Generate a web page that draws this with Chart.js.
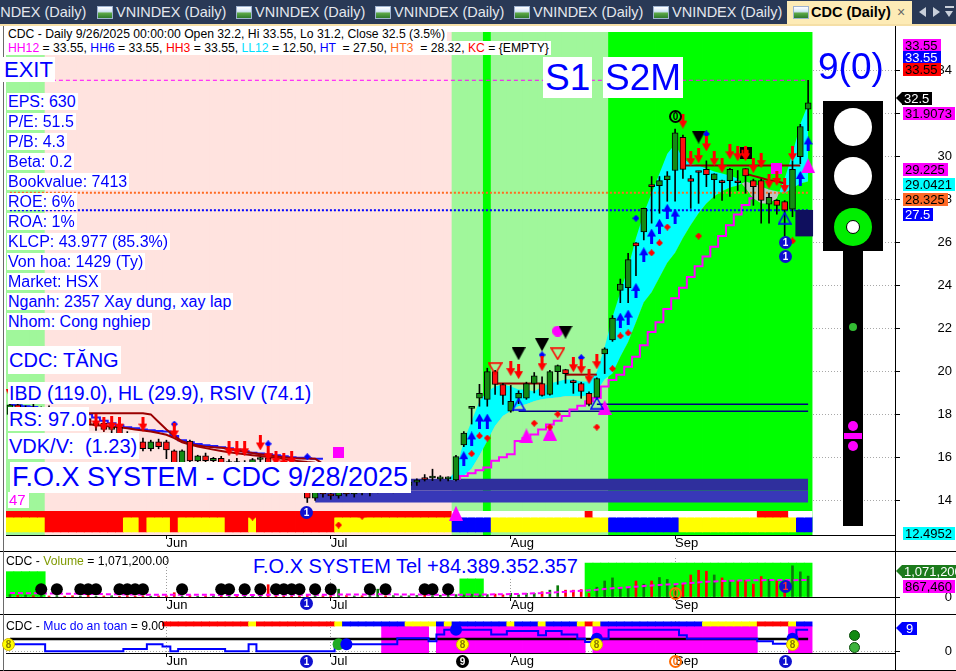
<!DOCTYPE html>
<html>
<head>
<meta charset="utf-8">
<title>CDC (Daily)</title>
<script src="https://cdn.jsdelivr.net/npm/chart.js@4.4.1/dist/chart.umd.min.js"></script>
<style>
body{margin:0;background:#fff;font-family:"Liberation Sans",Arial,sans-serif}
#wrap{position:relative;width:956px;height:671px;overflow:hidden;background:#fff}
#tabs{position:absolute;left:0;top:0;width:956px;height:24px;background:#293956;overflow:hidden}
.tab{position:absolute;top:5px;color:#e4e8ee;font-size:14.5px;line-height:14.5px;white-space:nowrap}
.ico{position:absolute;top:6px;width:16px;height:13px;box-sizing:border-box;border:1px solid #9fb3cf;background:linear-gradient(#ffffff 0,#d6e6f8 40%,#5aa646 58%,#2e7a2c 100%)}
#active{position:absolute;left:787px;top:1px;width:125px;height:25px;background:#fdebb6}
canvas{position:absolute;left:0}
.t{position:absolute;white-space:pre;color:#0000ff;background:#fff}
.lbl{position:absolute;font-size:13px;line-height:13px;height:13px;padding:0 3px 0 2px;white-space:nowrap}
.arr{position:absolute;left:-6px;top:0;width:0;height:0;border-top:6.5px solid transparent;border-bottom:6.5px solid transparent}
.ln{position:absolute;background:#000}
.dot{position:absolute;border-radius:50%;box-sizing:border-box}
.num{position:absolute;width:13px;height:13px;border-radius:50%;box-sizing:border-box;font:bold 10px/13px "Liberation Sans",Arial,sans-serif;text-align:center}
</style>
</head>
<body>
<div id="wrap">
  <div id="tabs">
    <span class="tab" style="left:-24px">VNINDEX (Daily)</span>
    <span class="ico" style="left:97px"></span><span class="tab" style="left:116px">VNINDEX (Daily)</span>
    <span class="ico" style="left:236px"></span><span class="tab" style="left:255px">VNINDEX (Daily)</span>
    <span class="ico" style="left:375px"></span><span class="tab" style="left:394px">VNINDEX (Daily)</span>
    <span class="ico" style="left:514px"></span><span class="tab" style="left:533px">VNINDEX (Daily)</span>
    <span class="ico" style="left:653px"></span><span class="tab" style="left:672px">VNINDEX (Daily)</span>
    <div id="active">
      <span class="ico" style="left:6px;top:5px"></span>
      <span class="tab" style="left:24px;top:4px;color:#000;font-weight:bold">CDC (Daily)</span>
      <span class="tab" style="left:110px;top:4px;color:#666;font-size:14px">×</span>
    </div>
    <div style="position:absolute;left:919px;top:7px;width:0;height:0;border-top:5px solid transparent;border-bottom:5px solid transparent;border-right:7px solid #c9d0da"></div>
    <div style="position:absolute;left:933px;top:7px;width:0;height:0;border-top:5px solid transparent;border-bottom:5px solid transparent;border-left:7px solid #c9d0da"></div>
    <div style="position:absolute;left:945px;top:6px;width:9px;height:2px;background:#c9d0da"></div>
    <div style="position:absolute;left:945px;top:11px;width:0;height:0;border-left:4.5px solid transparent;border-right:4.5px solid transparent;border-top:6px solid #c9d0da"></div>
  </div>
  <div style="position:absolute;left:0;top:24px;width:956px;height:2px;background:#f5dfa6"></div>

  <canvas id="main" width="956" height="525" style="top:26px"></canvas>
  <canvas id="vol" width="956" height="62" style="top:552px"></canvas>
  <canvas id="safe" width="956" height="55" style="top:615px"></canvas>

  <div class="ln" style="left:0;top:551px;width:956px;height:1px"></div>
  <div class="ln" style="left:0;top:614px;width:956px;height:1px"></div>
  <div class="ln" style="left:0;top:670px;width:956px;height:1px"></div>
  <div class="ln" style="left:895px;top:26px;width:1px;height:645px"></div>
  <div class="ln" style="left:3px;top:26px;width:1px;height:645px;background:#6a6a6a"></div>

  <!-- header -->
  <div class="t" style="left:6px;top:27px;font-size:12.2px;line-height:14px;color:#000;padding:0 2px">CDC - Daily 9/26/2025 00:00:00 Open 32.2, Hi 33.55, Lo 31.2, Close 32.5 (3.5%)</div>
  <div class="t" style="left:6px;top:41px;font-size:12.2px;line-height:14px;color:#000;padding:0 2px"><span style="color:#ff00ff">HH12</span> = 33.55, <span style="color:#0000ff">HH6</span> = 33.55, <span style="color:#ff0000">HH3</span> = 33.55, <span style="color:#00e0ff">LL12</span> = 12.50, <span style="color:#0000ff">HT</span>  = 27.50, <span style="color:#ff6a20">HT3</span>  = 28.32, <span style="color:#ff0000">KC</span> = {EMPTY}</div>

  <div class="t" style="left:3px;top:57px;font-size:22px;line-height:25px;height:25px;padding:0 2px 0 1px">EXIT</div>
  <div class="t" style="left:543px;top:57px;font-size:37px;line-height:41px;height:41px;padding:0 2px">S1</div>
  <div class="t" style="left:603px;top:57px;font-size:37px;line-height:41px;height:41px;padding:0 2px">S2M</div>
  <div class="t" style="left:818px;top:48px;font-size:37px;line-height:37px;background:transparent">9(0)</div>

  <div class="t" style="left:7px;top:93px;font-size:16px;line-height:17px;padding:0 2px 0 1px">EPS: 630</div>
  <div class="t" style="left:7px;top:113px;font-size:16px;line-height:17px;padding:0 2px 0 1px">P/E: 51.5</div>
  <div class="t" style="left:7px;top:133px;font-size:16px;line-height:17px;padding:0 2px 0 1px">P/B: 4.3</div>
  <div class="t" style="left:7px;top:153px;font-size:16px;line-height:17px;padding:0 2px 0 1px">Beta: 0.2</div>
  <div class="t" style="left:7px;top:173px;font-size:16px;line-height:17px;padding:0 2px 0 1px">Bookvalue: 7413</div>
  <div class="t" style="left:7px;top:193px;font-size:16px;line-height:17px;padding:0 2px 0 1px">ROE: 6%</div>
  <div class="t" style="left:7px;top:213px;font-size:16px;line-height:17px;padding:0 2px 0 1px">ROA: 1%</div>
  <div class="t" style="left:7px;top:233px;font-size:16px;line-height:17px;padding:0 2px 0 1px">KLCP: 43.977 (85.3%)</div>
  <div class="t" style="left:7px;top:253px;font-size:16px;line-height:17px;padding:0 2px 0 1px">Von hoa: 1429 (Ty)</div>
  <div class="t" style="left:7px;top:273px;font-size:16px;line-height:17px;padding:0 2px 0 1px">Market: HSX</div>
  <div class="t" style="left:7px;top:293px;font-size:16px;line-height:17px;padding:0 2px 0 1px">Nganh: 2357 Xay dung, xay lap</div>
  <div class="t" style="left:7px;top:313px;font-size:16px;line-height:17px;padding:0 2px 0 1px">Nhom: Cong nghiep</div>

  <div class="t" style="left:8px;top:346px;font-size:20px;line-height:28px;padding:0 2px 0 1px">CDC: TĂNG</div>
  <div class="t" style="left:8px;top:382px;font-size:19.5px;line-height:22px;padding:0 2px 0 1px">IBD (119.0), HL (29.9), RSIV (74.1)</div>
  <div class="t" style="left:8px;top:407px;font-size:20px;line-height:24px;padding:0 2px 0 1px">RS: 97.0</div>
  <div class="t" style="left:8px;top:433px;font-size:20px;line-height:26px;padding:0 2px 0 1px">VDK/V:  (1.23)</div>
  <div class="t" style="left:10px;top:462px;font-size:27px;line-height:31px;padding:0 3px 0 2px">F.O.X SYSTEM - CDC 9/28/2025</div>
  <div class="t" style="left:8px;top:492px;font-size:15px;line-height:16px;color:#ff00ff;padding:0 3px 0 1px">47</div>

  <div class="t" style="left:6px;top:555px;font-size:12.2px;line-height:13px;color:#000;background:transparent">CDC - <span style="color:#7f9a00">Volume</span> = 1,071,200.00</div>
  <div class="t" style="left:252px;top:555px;font-size:20px;line-height:22px;padding:0 2px 0 1px">F.O.X SYSTEM Tel +84.389.352.357</div>
  <div class="t" style="left:6px;top:620px;font-size:12.2px;line-height:13px;color:#000;background:transparent">CDC - <span style="color:#0000ff">Muc do an toan</span> = 9.00</div>

  <!-- axis value labels -->
  <div class="lbl" style="left:903px;top:39px;background:#ff00ff;color:#000">33.55</div>
  <div class="lbl" style="left:903px;top:51px;background:#0000ff;color:#fff">33.55</div>
  <div class="lbl" style="left:903px;top:63px;background:#ff0000;color:#000">33.55</div>
  <div class="lbl" style="left:902px;top:92px;background:#000;color:#fff"><span class="arr" style="border-right:6px solid #000"></span>32.5</div>
  <div class="lbl" style="left:903px;top:107px;background:#ff00ff;color:#000">31.9073</div>
  <div class="lbl" style="left:903px;top:163px;background:#ff00ff;color:#000">29.225</div>
  <div class="lbl" style="left:903px;top:178px;background:#00ffff;color:#000">29.0421</div>
  <div class="lbl" style="left:903px;top:193px;background:#ff6a26;color:#000">28.325</div>
  <div class="lbl" style="left:903px;top:208px;background:#0000ff;color:#fff">27.5</div>
  <div class="lbl" style="left:903px;top:527px;background:#00ffff;color:#000">12.4952</div>
  <div class="lbl" style="left:902px;top:565px;background:#1b7a1b;color:#fff"><span class="arr" style="border-right:6px solid #1b7a1b"></span>1,071,200</div>
  <div class="lbl" style="left:903px;top:580px;background:#ff00ff;color:#000">867,460</div>
  <div class="lbl" style="left:902px;top:622px;background:#0000ff;color:#fff;padding:0 4px"><span class="arr" style="border-right:6px solid #0000ff"></span>9</div>

  <!-- signal light -->
  <div style="position:absolute;left:823px;top:101px;width:60px;height:150px;background:#000"></div>
  <div class="dot" style="left:834px;top:108px;width:38px;height:38px;background:#fff"></div>
  <div class="dot" style="left:834px;top:157px;width:38px;height:38px;background:#fff"></div>
  <div class="dot" style="left:834px;top:208px;width:38px;height:38px;background:#00ee00"></div>
  <div class="dot" style="left:846px;top:220px;width:14px;height:14px;background:#fff;border:1px solid #000"></div>
  <div style="position:absolute;left:843px;top:251px;width:20px;height:275px;background:#000"></div>
  <div class="dot" style="left:849px;top:323px;width:8px;height:8px;background:#33bb33"></div>
  <div class="dot" style="left:848px;top:421px;width:10px;height:10px;background:#ff00ff"></div>
  <div style="position:absolute;left:844px;top:433px;width:18px;height:6px;background:#ff00ff"></div>
  <div class="dot" style="left:848px;top:441px;width:10px;height:10px;background:#ff00ff"></div>
  <div class="dot" style="left:849px;top:630px;width:11px;height:11px;background:#138a13;border:1px solid #0a4a0a"></div>
  <div class="dot" style="left:849px;top:642px;width:11px;height:11px;background:#3cb33c;border:1px solid #0a4a0a"></div>

  <!-- circled signal digits -->
  <div class="num" style="left:669px;top:110px;border:2px solid #000;color:#000;line-height:9px">0</div>
  <div class="num" style="left:779px;top:236px;background:#1010d0;color:#fff">1</div>
  <div class="num" style="left:779px;top:250px;background:#1010d0;color:#fff">1</div>
  <div class="num" style="left:300px;top:506px;background:#1010d0;color:#fff">1</div>
  <div class="num" style="left:300px;top:597px;background:#1010d0;color:#fff">1</div>
  <div class="num" style="left:669px;top:587px;border:2px solid #ff6a00;color:#ff6a00;line-height:9px">0</div>
  <div class="num" style="left:779px;top:580px;background:#1010d0;color:#ff3030">1</div>
  <div class="num" style="left:300px;top:655px;background:#1010d0;color:#fff">1</div>
  <div class="num" style="left:456px;top:655px;background:#000;color:#fff">9</div>
  <div class="num" style="left:669px;top:655px;border:2px solid #ff6a00;color:#ff6a00;line-height:9px">0</div>
  <div class="num" style="left:779px;top:655px;background:#1010d0;color:#fff">1</div>
  <div class="num" style="left:2px;top:638px;background:#ffff00;border:1px solid #d0b000;color:#8a7a00;line-height:11px">8</div>
  <div class="num" style="left:456px;top:638px;background:#ffff00;border:1px solid #d0b000;color:#8a7a00;line-height:11px">8</div>
  <div class="num" style="left:590px;top:638px;background:#ffff00;border:1px solid #d0b000;color:#8a7a00;line-height:11px">8</div>
  <div class="num" style="left:786px;top:638px;background:#ffff00;border:1px solid #d0b000;color:#8a7a00;line-height:11px">8</div>
</div>

<script>
// ---- x axis (trading days, 5 May .. 26 Sep 2025) ----
const monthIdx = [20, 41, 64, 85];
const monthName = ['Jun', 'Jul', 'Aug', 'Sep'];
const priceTicks = [14, 16, 18, 20, 22, 24, 26, 28, 30, 32, 34];

// ---- daily candles ----
const open = [18.0,18.45,18.2,18.3,18.05,18.25,17.95,18.1,17.85,17.7,17.8,17.5,17.6,17.3,17.4,17.05,16.85,16.72,16.4,16.72,
  16.72,16.3,15.75,16.76,15.84,16.07,15.85,15.95,15.7,15.8,15.65,15.75,15.9,15.98,15.7,15.55,15.4,15.2,14.7,14.1,
  14.4,14.3,14.2,14.4,14.3,14.45,14.35,14.5,14.6,14.5,14.65,14.7,14.85,15.05,15.04,15.0,15.0,
  14.95,16.58,18.28,18.75,18.7,19.99,19.39,18.15,18.75,18.75,19.44,19.44,18.93,19.99,20.08,19.57,19.44,18.98,18.79,20.82,
  21.47,23.77,23.9,25.98,26.49,28.7,28.65,28.93,29.35,30.9,28.98,29.3,29.4,28.93,28.88,28.88,28.82,29.44,28.88,28.88,
  27.78,27.96,27.9,27.55,30.0,32.2];
const high = [18.55,18.7,18.4,18.5,18.35,18.4,18.2,18.25,18.0,17.9,17.95,17.7,17.7,17.5,17.45,17.2,17.0,16.9,16.8,16.85,
  16.8,16.35,16.35,16.8,16.1,16.2,16.0,16.05,15.9,15.95,15.85,15.95,16.0,16.05,15.85,15.7,15.5,15.3,14.8,14.5,
  14.6,14.45,14.5,14.55,14.5,14.6,14.55,14.7,14.75,14.7,14.8,14.9,15.0,15.2,15.45,15.15,15.1,
  16.1,17.2,18.32,19.4,20.15,20.05,19.45,19.35,19.1,19.5,19.95,19.75,20.05,20.3,20.1,19.6,19.5,19.05,19.7,21.1,
  22.6,24.3,25.5,26.0,27.6,29.07,29.07,29.3,31.28,31.0,29.12,29.32,29.8,29.2,28.9,29.45,29.35,29.44,28.95,28.95,
  28.3,28.0,27.95,29.8,31.5,33.55];
const low = [17.9,18.1,17.95,17.9,17.8,17.85,17.7,17.75,17.55,17.4,17.4,17.25,17.2,17.0,16.95,16.75,16.6,16.3,16.3,16.4,
  15.94,15.7,15.7,15.8,15.7,15.75,15.6,15.65,15.5,15.55,15.5,15.6,15.7,15.6,15.45,15.3,15.1,14.6,13.9,14.0,
  14.15,14.05,14.1,14.2,14.15,14.25,14.2,14.35,14.4,14.35,14.5,14.55,14.7,14.9,14.92,14.9,14.9,
  14.9,16.5,17.55,18.38,18.38,18.93,18.47,18.1,18.5,18.7,19.0,18.85,18.9,19.4,19.45,18.98,18.75,18.4,18.7,19.9,
  21.4,23.2,23.2,24.46,26.12,26.9,27.36,27.92,27.92,28.98,27.59,27.82,28.6,28.06,27.96,28.15,28.42,28.29,27.73,26.9,
  26.9,27.32,26.3,27.2,29.67,31.2];
const close = [18.45,18.2,18.3,18.05,18.25,17.95,18.1,17.85,17.7,17.8,17.5,17.6,17.3,17.4,17.05,16.85,16.7,16.4,16.72,16.5,
  16.35,15.75,16.3,15.84,16.07,15.85,15.95,15.7,15.8,15.65,15.75,15.9,15.98,15.7,15.55,15.4,15.2,14.7,14.1,14.4,
  14.3,14.2,14.4,14.3,14.45,14.35,14.5,14.6,14.5,14.65,14.7,14.85,14.9,14.97,15.06,15.02,15.05,
  16.04,17.13,18.3,18.98,19.99,19.39,18.88,18.61,18.98,19.44,19.8,18.88,19.99,20.27,19.9,19.48,19.07,18.47,19.67,21.05,
  22.48,24.06,25.2,25.84,27.59,28.6,28.88,29.1,31.1,29.4,28.84,29.26,29.16,29.2,28.79,29.4,28.78,29.1,28.6,27.96,
  28.1,27.73,27.5,29.4,31.4,32.5];

// ---- price levels ----
const levelHH12 = 33.55, levelHT3 = 28.32, levelHT = 27.50;
const resFrom = [62, 71, 86], resTo = [68, 75, 101], resLevel = [19.44, 19.85, 29.58];
const supFrom = [65, 75], supTo = [102, 102], supLevel = [18.15, 18.47];
const resSlope = [29.2, 29.1, 29.0, 28.9, 28.85, 28.75];           // from day 94
const zoneTop = 15.0, zoneMid = 14.46, zoneBot = 13.9, zoneFrom = 39;

// ---- overlays ----
const trailStop = [15.0,15.13,15.26,15.4,15.53,15.84,16.0,16.15,16.76,16.9,17.07,17.3,17.53,17.7,17.92,18.23,18.4,18.61,18.76,19.3,
  19.6,19.84,20.22,20.68,21.22,21.83,22.29,22.9,23.4,23.9,24.4,24.9,25.35,25.8,26.3,26.8,27.3,27.75,28.06]; // from day 57
const cloudUp = [14.97,15.38,16.76,17.69,18.61,19.07,19.3,19.39,19.3,19.16,19.16,19.07,19.3,19.44,19.53,19.62,19.62,19.53,19.53,19.99,
  21.14,22.53,23.68,24.83,26.21,27.36,28.29,29.21,30.13,30.59,29.9,29.67,29.58,29.44,29.3,29.21,29.12,28.98,28.52,28.06,
  27.82,27.82,28.06,28.98,30.13,31.51,32.43]; // from day 56
const cloudLow = [14.97,14.92,15.15,15.47,16.07,16.76,17.46,17.92,18.15,18.38,18.47,18.61,18.7,18.75,18.79,18.84,18.84,18.84,18.88,19.07,
  19.62,19.9,20.68,21.37,22.29,23.22,23.68,24.37,25.06,25.52,26.21,26.81,27.36,27.82,28.15,28.38,28.56,28.65,28.84,28.75,
  28.61,28.47,28.38,28.29,28.52,28.75,28.84];
const trendHi = [18.05,18.05,18.05,18.05,18.05,18.05,18.05,18.05,18.05,18.05,18.0,17.65,17.3,17.0,16.75,16.62,16.55,16.5,16.47,16.45,
  16.4,16.33,16.26,16.2,16.15,16.1,16.05,16.0,15.97,15.95,15.95,15.94,15.7]; // from day 8
const trendLo = [17.62,17.58,17.55,17.5,17.47,17.43,17.4,17.36,17.3,17.25,17.2,17.13,17.05,16.9,16.7,16.6,16.5,16.43,16.36,16.3,
  16.24,16.19,16.14,16.1,16.06,16.02,15.98,15.92,15.86,15.82,15.78,15.75]; // from day 8
const avgLine = [18.45,18.42,18.38,18.35,18.3,18.27,18.22,18.17,18.12,18.06,18.01,17.85,17.7,17.59,17.5,17.4,17.35,17.3,17.26,17.23,
  17.2,17.0,16.8,16.7,16.62,16.56,16.53,16.47,16.42,16.35,16.28,16.22,16.18,16.15,16.1,16.05,16.0,15.98,15.96,15.94,15.93];

// ---- signal markers (day, price) ----
const sellArrowDay = [0,11,12,13,14,17,21,28,29,30,32,33,34,35,36,64,65,68,72,73,74,75,86,87,88,89,90,91,92,93,94,95,96,97,98,99,100];
const sellArrowVal = [19.16,17.69,17.55,17.59,17.55,17.55,17.23,16.4,16.4,16.4,16.67,16.17,15.94,15.84,15.94,20.13,19.99,20.36,20.31,20.22,19.76,20.45,
  31.65,29.9,30.04,30.59,29.9,29.58,30.22,30.13,30.13,29.58,29.81,28.84,28.98,28.65,30.13];
const buyArrowDay = [58,59,60,61,78,79,80,81,82,83,84,85,101,102];
const buyArrowVal = [15.94,16.86,17.69,17.69,22.39,22.53,23.77,25.43,26.3,26.76,27.46,27.23,28.98,30.59];
const redDotDay = [31,42,45,59,60,61,67,69,70,75,77,78,79,82,83,84,88,100];
const redDotVal = [13.22,12.85,13.26,16.17,17.0,16.9,17.59,17.41,18.01,17.41,20.13,21.65,21.79,25.52,25.98,26.72,26.3,26.07];
const blueDotDay = [21,33,38,68,73,80,89];
const blueDotVal = [17.55,16.63,16.03,20.77,20.64,27.13,31.05];
const topDay = [65,68,71,88], topVal = [20.82,21.24,21.83,30.91];
const warnDay = [62,70], warnVal = [20.13,20.82];
const baseDay = [65,75,99], baseVal = [18.47,18.52,27.13];
const pushDay = [57,66,69,76,102], pushVal = [13.4,17.0,17.13,18.33,29.58];
const pinkDotDay = [70], pinkDotVal = [21.88];
const pinkBoxDay = [42,98], pinkBoxVal = [16.21,29.44];
const blackBoxDay = [94], blackBoxVal = [30.18];
const lastBoxDay = [101.5], lastBoxVal = [[26.3, 27.5]];

// ---- state bands (runs of [state, days]) ----
const phaseRuns = [['L',5],['P',52],['L',4],['G',1],['L',15],['G',26]];
const trendRuns = [['R',57],['W',17],['R',1],['W',21],['R',4],['W',3]];
const momentumRuns = [['Y',5],['R',10],['Y',2],['R',1],['Y',3],['R',1],['Y',6],['R',3],['Y',1],['R',10],['Y',15],['B',5],['Y',15],['B',9],['Y',15],['B',2]];

// ---- volume (million shares) ----
const volume = [0.12,0.08,0.1,0.06,0.09,0.05,0.07,0.04,0.06,0.05,0.08,0.04,0.05,0.06,0.04,0.07,0.05,0.06,0.04,0.05,
  0.06,0.22,0.05,0.07,0.04,0.05,0.06,0.04,0.05,0.07,0.05,0.06,0.05,0.63,0.06,0.05,0.04,0.07,0.12,0.09,
  0.06,0.08,0.4,0.07,0.05,0.06,0.08,0.4,0.06,0.07,0.05,0.06,0.08,0.1,0.07,0.09,0.11,
  0.12,0.1,0.14,0.1,0.12,0.15,0.11,0.19,0.11,0.19,0.19,0.27,0.35,0.58,0.35,0.35,0.38,0.19,0.5,0.82,
  0.98,0.5,0.5,0.82,0.66,0.82,1.0,0.9,0.58,0.66,1.13,1.37,1.32,1.13,0.98,0.85,0.82,0.85,0.66,1.05,
  0.9,0.82,0.58,1.6,1.29,1.0712];
const volumeAvg = [0.2,0.2,0.19,0.19,0.19,0.18,0.18,0.17,0.17,0.16,0.16,0.15,0.15,0.14,0.14,0.13,0.13,0.12,0.12,0.12,
  0.11,0.12,0.12,0.12,0.11,0.11,0.11,0.1,0.1,0.1,0.1,0.1,0.1,0.12,0.12,0.12,0.12,0.12,0.12,0.12,
  0.12,0.12,0.13,0.13,0.13,0.13,0.13,0.14,0.14,0.14,0.13,0.13,0.13,0.12,0.12,0.12,0.12,
  0.12,0.12,0.13,0.13,0.13,0.14,0.14,0.15,0.16,0.17,0.19,0.2,0.22,0.25,0.27,0.3,0.32,0.34,0.37,0.41,
  0.45,0.47,0.5,0.53,0.56,0.59,0.62,0.64,0.66,0.69,0.72,0.75,0.78,0.8,0.82,0.83,0.84,0.85,0.86,0.86,
  0.87,0.87,0.87,0.86,0.87,0.867];
const quietDay = [4,6,9,10,11,14,15,16,17,22,27,28,30,32,34,35,36,37,39,41,46,48,53,54,56];
const quietVal = 0.4;
const volZoneRuns = [[1.3,5],[null,53],[0.93,3],[null,13],[1.74,29]];

// ---- safety level ----
const safetyRuns = [[3,5],[0,10],[1,3],[3,2],[2,1],[0,1],[1,6],[0,3],[3,1],[0,10],[3,8],[5.5,4],[4.2,1],[7,1],[9,6],[7,2],[8.5,4],
  [6.7,1],[8.5,2],[7,2],[5.3,1],[3.9,1],[5.3,2],[9,9],[6.7,1],[5.3,9],[4.2,2],[3.2,2],[5.3,1],[9,2]];
const safetyLimit = 5.2;
const safeStateRuns = [['W',20],['R',11],['Y',1],['R',10],['Y',1],['B',8],['Y',4],['B',1],['Y',1],['B',7],['Y',1],['B',3],['Y',1],['B',4],
  ['Y',1],['R',1],['Y',1],['B',13],['Y',7],['R',4],['Y',1],['B',2]];
const safeZoneRuns = [['W',48],['M',6],['W',1],['M',19],['W',1],['M',21],['W',4],['M',3]];
const safeDotDay = [43,57,75,100], safeDotVal = [3,9,5.3,5.3];
const safeGreenDay = [42], safeGreenVal = [3];

// ------------------------------------------------------------------
Chart.defaults.font.family = "'Liberation Sans', Arial, sans-serif";
Chart.defaults.color = '#000';

const days = open.map((_, i) => i);
const expand = runs => runs.flatMap(([s, n]) => Array(n).fill(s));
const phase = expand(phaseRuns), trend = expand(trendRuns), momentum = expand(momentumRuns);
const volZone = expand(volZoneRuns), safety = expand(safetyRuns);
const safeState = expand(safeStateRuns), safeZone = expand(safeZoneRuns);

const phaseColor = { L: '#a0f79b', P: '#ffe3df', G: '#00ff00' };
const stateColor = { R: '#ff0000', Y: '#ffff00', B: '#0000ff', W: '#ffffff', M: '#ff00ff' };
const UP = '#148c14', DOWN = '#ff1010';

function icon(w, h, paint) {
  const c = document.createElement('canvas');
  c.width = w; c.height = h;
  paint(c.getContext('2d'));
  return c;
}
function poly(g, p, fill, stroke, lw) {
  g.beginPath(); g.moveTo(p[0][0], p[0][1]);
  for (let k = 1; k < p.length; k++) g.lineTo(p[k][0], p[k][1]);
  g.closePath();
  if (fill) { g.fillStyle = fill; g.fill(); }
  if (stroke) { g.strokeStyle = stroke; g.lineWidth = lw; g.stroke(); }
}
const icons = {
  sell: icon(9, 15, g => { g.fillStyle = '#ff0000'; g.fillRect(3, 0, 3, 8); poly(g, [[0,7],[9,7],[4.5,15]], '#ff0000'); }),
  buy: icon(9, 15, g => { g.fillStyle = '#0000ff'; g.fillRect(3, 7, 3, 8); poly(g, [[0,8],[9,8],[4.5,0]], '#0000ff'); }),
  redDot: icon(7, 7, g => poly(g, [[3.5,0],[7,3.5],[3.5,7],[0,3.5]], '#ff0000')),
  blueDot: icon(7, 7, g => poly(g, [[3.5,0],[7,3.5],[3.5,7],[0,3.5]], '#0000ff')),
  top: icon(14, 13, g => poly(g, [[0,0],[14,0],[7,13]], '#000')),
  warn: icon(15, 13, g => poly(g, [[1,1],[14,1],[7.5,12]], null, '#ff0000', 1.5)),
  base: icon(14, 13, g => poly(g, [[7,1],[13,12],[1,12]], null, '#0000ff', 1.5)),
  push: icon(14, 15, g => poly(g, [[7,0],[14,15],[0,15]], '#ff00ff')),
  pinkDot: icon(11, 11, g => { g.fillStyle = '#ff00ff'; g.beginPath(); g.arc(5.5, 5.5, 5.5, 0, 7); g.fill(); }),
  pinkBox: icon(11, 11, g => { g.fillStyle = '#ff00ff'; g.fillRect(0, 0, 11, 11); }),
  blackBox: icon(12, 12, g => { g.fillStyle = '#000'; g.fillRect(0, 0, 12, 12); g.fillStyle = '#ff0000'; g.fillRect(2, 3, 2, 6); g.fillRect(7, 3, 2, 6); })
};

const pts = (xs, ys) => xs.map((x, k) => ({ x, y: ys[k] }));
const from = (start, ys) => ys.map((y, k) => ({ x: start + k, y }));

function marks(xs, ys, style) {
  return { type: 'line', showLine: false, data: pts(xs, ys), pointStyle: style, pointRadius: 5, order: 0 };
}
function line(data, color, width, extra) {
  return Object.assign({ type: 'line', data, borderColor: color, borderWidth: width, pointRadius: 0, fill: false, order: 4 }, extra || {});
}
function bars(data, color, thick, order, extra) {
  return Object.assign({ type: 'bar', data, backgroundColor: color, barThickness: thick, grouped: false,
    borderWidth: 0, borderSkipped: false, order }, extra || {});
}

function xScale(h) {
  return {
    type: 'linear', min: -0.5, max: 113.1, offset: false,
    afterBuildTicks: s => { s.ticks = monthIdx.map(v => ({ value: v })); },
    afterFit: s => { s.height = h; },
    ticks: { autoSkip: false, maxRotation: 0, align: 'start', padding: -3, color: '#000', font: { size: 13 },
      callback: v => monthName[monthIdx.indexOf(v)] },
    grid: { color: '#9c9c9c', tickColor: '#000', tickLength: 4, offset: false },
    border: { color: '#000', dash: [1, 2] }
  };
}
function yScale(min, max, ticks) {
  return {
    type: 'linear', position: 'right', min, max,
    afterBuildTicks: s => { s.ticks = ticks.map(v => ({ value: v })); },
    afterFit: s => { s.width = 57; s.paddingTop = 0; s.paddingBottom = 0; },
    ticks: { crossAlign: 'far', padding: 37, color: '#000', font: { size: 13 } },
    grid: { color: '#a8a8a8', tickColor: '#000', tickLength: 5 },
    border: { color: '#000', dash: [1, 2] }
  };
}
const base = {
  responsive: false, animation: false, events: [],
  plugins: { legend: { display: false }, tooltip: { enabled: false } }
};

// ---------------- price panel ----------------
const P_MIN = 12.387, P_MAX = 35.797;
const mainSets = [
  marks(sellArrowDay, sellArrowVal, icons.sell),
  marks(buyArrowDay, buyArrowVal, icons.buy),
  marks(redDotDay, redDotVal, icons.redDot),
  marks(blueDotDay, blueDotVal, icons.blueDot),
  marks(topDay, topVal, icons.top),
  marks(warnDay, warnVal, icons.warn),
  marks(baseDay, baseVal, icons.base),
  marks(pushDay, pushVal, icons.push),
  marks(pinkDotDay, pinkDotVal, icons.pinkDot),
  marks(pinkBoxDay, pinkBoxVal, icons.pinkBox),
  marks(blackBoxDay, blackBoxVal, icons.blackBox),
  bars(days.map(i => ({ x: i, y: [open[i], close[i]] })), days.map(i => close[i] >= open[i] ? UP : DOWN), 6, 1,
    { borderWidth: 1, borderColor: '#000', minBarLength: 2 }),
  bars(days.map(i => ({ x: i, y: [low[i], high[i]] })), '#000', 1, 2),
  bars(pts(lastBoxDay, lastBoxVal), '#0f0f5e', 17, 3),
  line([{ x: 0, y: levelHH12 }, { x: 102, y: levelHH12 }], '#ff00ff', 1, { borderDash: [4, 3] }),
  line([{ x: 0, y: levelHT3 }, { x: 102, y: levelHT3 }], '#ff6a20', 2, { borderDash: [2, 2] }),
  line([{ x: 0, y: levelHT }, { x: 102, y: levelHT }], '#0000ff', 2, { borderDash: [2, 2] }),
  line(from(57, trailStop), '#ff00ff', 2, { stepped: 'middle' }),
  ...resFrom.map((f, k) => line([{ x: f, y: resLevel[k] }, { x: resTo[k], y: resLevel[k] }], '#9a0000', 2)),
  line(from(94, resSlope), '#9a0000', 2),
  ...supFrom.map((f, k) => line([{ x: f, y: supLevel[k] }, { x: supTo[k], y: supLevel[k] }], '#000080', 1.5)),
  line(from(8, trendHi), '#9a0000', 2),
  line(from(8, trendLo), '#9a0000', 2),
  line(from(0, avgLine), '#1a1aff', 2, { stepped: 'middle' }),
  line(from(56, cloudUp), 'rgba(0,0,0,0)', 0, { order: 5, fill: { target: '+1', above: '#00ffff', below: '#c0c0c0' } }),
  line(from(56, cloudLow), 'rgba(0,0,0,0)', 0, { order: 5 }),
  line([{ x: zoneFrom, y: zoneTop }, { x: 102, y: zoneTop }], 'rgba(0,0,0,0)', 0, { order: 6, fill: { target: '+1', above: '#2f2f9d', below: '#2f2f9d' } }),
  line([{ x: zoneFrom, y: zoneMid }, { x: 102, y: zoneMid }], 'rgba(0,0,0,0)', 0, { order: 6, fill: { target: '+1', above: '#3838b8', below: '#3838b8' } }),
  line([{ x: zoneFrom, y: zoneBot }, { x: 102, y: zoneBot }], 'rgba(0,0,0,0)', 0, { order: 6 }),
  bars(days.map(i => ({ x: i, y: [13.22, 13.49] })), days.map(i => stateColor[trend[i]]), 8, 7),
  bars(days.map(i => ({ x: i, y: [12.53, 13.22] })), days.map(i => stateColor[momentum[i]]), 8, 7),
  bars(days.map(i => ({ x: i, y: [P_MIN, P_MAX] })), days.map(i => phaseColor[phase[i]]), 8, 8)
];
new Chart(document.getElementById('main'), {
  type: 'bar',
  data: { datasets: mainSets },
  options: Object.assign({}, base, {
    layout: { padding: { left: 5, right: 4, top: 1, bottom: 0 } },
    scales: { x: xScale(16), y: yScale(P_MIN, P_MAX, priceTicks) }
  })
});

// ---------------- volume panel ----------------
const volBgDays = days.filter(i => volZone[i] !== null);
new Chart(document.getElementById('vol'), {
  type: 'bar',
  data: { datasets: [
    { type: 'line', showLine: false, data: quietDay.map(x => ({ x, y: quietVal })), pointRadius: 6,
      pointBackgroundColor: '#000', pointBorderWidth: 0, order: 0 },
    line(from(0, volumeAvg), '#ff00ff', 2, { borderDash: [5, 3], order: 1 }),
    bars(days.map(i => ({ x: i, y: [0, volume[i]] })), days.map(i => close[i] >= open[i] ? '#0a7a0a' : '#ff0000'), 2, 2),
    bars(volBgDays.map(i => ({ x: i, y: [0, volZone[i]] })), '#00ff00', 8, 3)
  ] },
  options: Object.assign({}, base, {
    layout: { padding: { left: 5, right: 4, top: 0, bottom: 0 } },
    scales: { x: xScale(17), y: yScale(0, 2.0, [0]) }
  })
});

// ---------------- safety panel ----------------
const S_MIN = -0.706, S_MAX = 12.7;
const stateDays = days.filter(i => safeState[i] !== 'W');
const zoneDays = days.filter(i => safeZone[i] === 'M');
new Chart(document.getElementById('safe'), {
  type: 'bar',
  data: { datasets: [
    { type: 'line', showLine: false, data: pts(safeDotDay, safeDotVal), pointRadius: 6,
      pointBackgroundColor: '#0000ff', pointBorderWidth: 0, order: 0 },
    { type: 'line', showLine: false, data: pts(safeGreenDay, safeGreenVal), pointRadius: 6,
      pointBackgroundColor: '#22aa22', pointBorderWidth: 0, order: 0 },
    line(from(0, safety), '#0000ff', 2, { stepped: 'middle', order: 1 }),
    line([{ x: 0, y: safetyLimit }, { x: 102, y: safetyLimit }], '#000', 2.5, { order: 2 }),
    bars(stateDays.map(i => ({ x: i, y: [10.59, 12.35] })), stateDays.map(i => stateColor[safeState[i]]), 8, 3),
    bars(zoneDays.map(i => ({ x: i, y: [S_MIN, 10.59] })), '#ff00ff', 8, 4)
  ] },
  options: Object.assign({}, base, {
    layout: { padding: { left: 5, right: 4, top: 0, bottom: 0 } },
    scales: { x: xScale(17), y: yScale(S_MIN, S_MAX, [0]) }
  })
});
</script>
</body>
</html>
